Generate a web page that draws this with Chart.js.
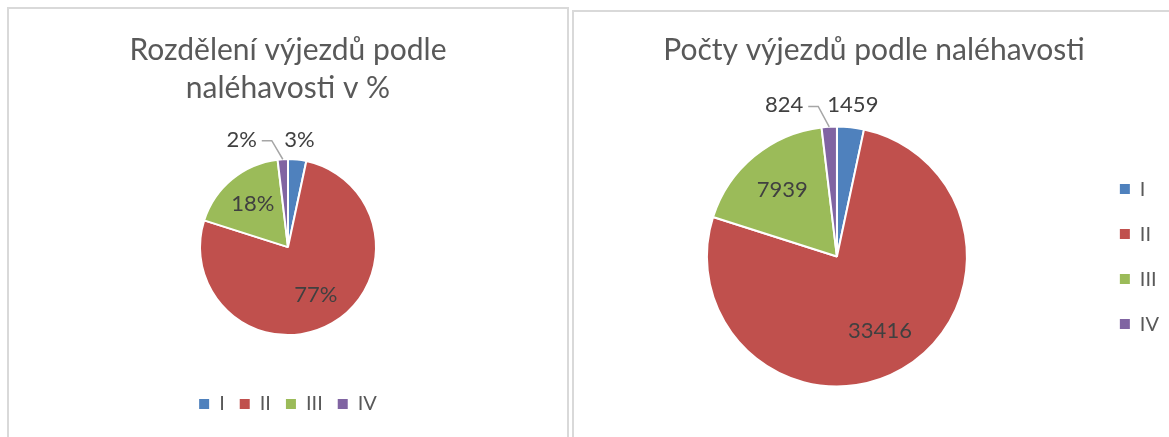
<!DOCTYPE html>
<html>
<head>
<meta charset="utf-8">
<script src="https://cdn.jsdelivr.net/npm/chart.js@4.4.0/dist/chart.umd.min.js"></script>
<style>
    body { margin: 0; background: #fff; width: 1169px; height: 437px; overflow: hidden; position: relative; }
    .panel { position: absolute; box-sizing: border-box; border: 2px solid #d9d9d9; background: #fff; }
    #leftPanel { left: 7px; top: 7px; width: 562px; height: 450px; }
    #rightPanel { left: 572px; top: 10px; width: 610px; height: 450px; }
    canvas { position: absolute; }
    #pctChart { left: 9px; top: 9px; }
    #countChart { left: 548px; top: 12px; }
</style>
</head>
<body>
<div class="panel" id="leftPanel"></div>
<div class="panel" id="rightPanel"></div>
<canvas id="pctChart" width="558" height="428"></canvas>
<canvas id="countChart" width="621" height="425"></canvas>
<script>
'use strict';

const categories = ['I', 'II', 'III', 'IV'];
const counts = [1459, 33416, 7939, 824];
const colors = ['#4F81BD', '#C0504D', '#9BBB59', '#8064A2'];
const titlePercent = ['Rozdělení výjezdů podle', 'naléhavosti v %'];
const titleCounts = 'Počty výjezdů podle naléhavosti';

const font = 'Lato';

// labels on the slices, small slices go outside with a leader line
function makeLabels(format, size, gap, inside) {
    return {
        id: 'sliceLabels',
        afterDatasetsDraw: function(chart) {
            let ctx = chart.ctx;
            let data = chart.data.datasets[0].data;
            let total = data.reduce(function(a, b) { return a + b; }, 0);
            let arcs = chart.getDatasetMeta(0).data;
            let placed = [];
            ctx.save();
            ctx.font = size + 'px ' + font;
            ctx.fillStyle = '#404040';
            ctx.textBaseline = 'middle';
            ctx.textAlign = 'center';
            for (let i = 0; i < arcs.length; i++) {
                let p = arcs[i].getProps(['x', 'y', 'startAngle', 'endAngle', 'outerRadius']);
                let mid = (p.startAngle + p.endAngle) / 2;
                let text = format(data[i], total);
                let w = ctx.measureText(text).width;
                if (data[i] / total > 0.06) {
                    let r = p.outerRadius * inside;
                    ctx.fillText(text, p.x + Math.cos(mid) * r, p.y + Math.sin(mid) * r);
                    continue;
                }
                let r = p.outerRadius + gap;
                let lx = p.x + Math.cos(mid) * r;
                let ly = p.y + Math.sin(mid) * r;
                let hit = placed.find(function(b) {
                    return lx + w / 2 > b.left - 4 && lx - w / 2 < b.right + 4;
                });
                if (hit) {
                    let ex = p.x + Math.cos(mid) * p.outerRadius;
                    let ey = p.y + Math.sin(mid) * p.outerRadius;
                    ly = hit.y;
                    lx = ex - 26 - w / 2;
                    ctx.strokeStyle = '#A6A6A6';
                    ctx.lineWidth = 1.5;
                    ctx.beginPath();
                    ctx.moveTo(ex, ey);
                    ctx.lineTo(ex - 11, ly + 1);
                    ctx.lineTo(ex - 21, ly + 1);
                    ctx.stroke();
                }
                ctx.fillText(text, lx, ly);
                placed.push({ left: lx - w / 2, right: lx + w / 2, y: ly });
            }
            ctx.restore();
        }
    };
}

function legendItems(chart) {
    let items = Chart.overrides.pie.plugins.legend.labels.generateLabels(chart);
    items.forEach(function(it) { it.lineWidth = 0; });
    return items;
}

function pieData() {
    return {
        labels: categories,
        datasets: [{
            data: counts,
            backgroundColor: colors,
            borderColor: '#ffffff',
            borderWidth: 2
        }]
    };
}

let titleFont = { family: font, size: 30, weight: 'normal', lineHeight: 1.27 };

new Chart(document.getElementById('pctChart'), {
    type: 'pie',
    data: pieData(),
    options: {
        responsive: false,
        animation: false,
        events: [],
        radius: 88,
        layout: { padding: { bottom: 13 } },
        plugins: {
            title: {
                display: true,
                text: titlePercent,
                color: '#595959',
                font: titleFont,
                padding: { top: 22, bottom: 8 }
            },
            legend: {
                position: 'bottom',
                labels: {
                    boxWidth: 10, boxHeight: 10, padding: 15,
                    color: '#595959',
                    font: { family: font, size: 20 },
                    generateLabels: legendItems
                }
            },
            tooltip: { enabled: false }
        }
    },
    plugins: [makeLabels(function(v, total) { return Math.round(v / total * 100) + '%'; }, 22, 20, 0.63)]
});

new Chart(document.getElementById('countChart'), {
    type: 'pie',
    data: pieData(),
    options: {
        responsive: false,
        animation: false,
        events: [],
        radius: 130,
        layout: { padding: { left: 31, bottom: 16 } },
        plugins: {
            title: {
                display: true,
                text: titleCounts,
                color: '#595959',
                font: titleFont,
                padding: { top: 19, bottom: 23 }
            },
            legend: {
                position: 'right',
                fullSize: false,
                labels: {
                    boxWidth: 10, boxHeight: 10, padding: 25,
                    color: '#595959',
                    font: { family: font, size: 20 },
                    generateLabels: legendItems
                }
            },
            tooltip: { enabled: false }
        }
    },
    plugins: [makeLabels(function(v) { return String(v); }, 22, 22, 0.66)]
});
</script>
</body>
</html>
